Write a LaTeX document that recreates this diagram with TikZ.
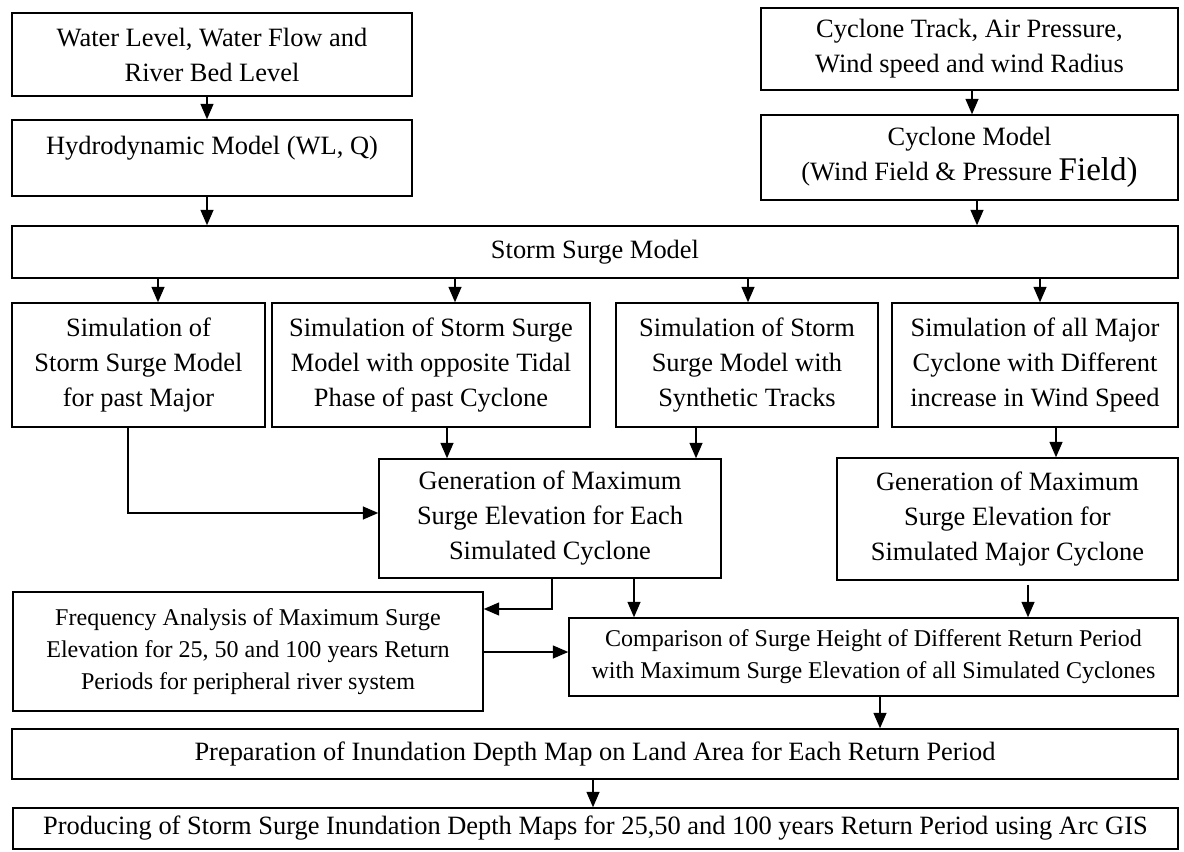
\documentclass[tikz,border=0pt]{standalone}
\usepackage{fontspec}
\setmainfont{Liberation Serif}
\usetikzlibrary{arrows.meta}

\newdimen\pxu
\pxu=0.025cm
\newcommand{\boxfont}{\fontsize{18.8pt}{24.9pt}\selectfont}
\newcommand{\smallboxfont}{\fontsize{17.1pt}{22.8pt}\selectfont}

\tikzset{
	box/.style = {draw, line width=0.9pt, inner sep=0pt, align=center, font=\boxfont},
	smallbox/.style = {box, font=\smallboxfont},
	arr/.style = {line width=1.6pt, -{Triangle[length=11pt, width=9pt]}},
}

\begin{document}
\begin{tikzpicture}[x=0.025cm, y=-0.025cm]
	\useasboundingbox (0,0) rectangle (1184,852);
	
	\node[box, minimum width=400\pxu, minimum height=83\pxu] (water) at (212,54.5) {Water Level, Water Flow and\\River Bed Level};
	\node[box, minimum width=400\pxu, minimum height=76\pxu, text depth=26\pxu] (hydro) at (212,158) {Hydrodynamic Model (WL, Q)};
	\node[box, minimum width=417\pxu, minimum height=82\pxu] (track) at (969.5,49) {Cyclone Track, Air Pressure,\\Wind speed and wind Radius};
	\node[box, minimum width=417\pxu, minimum height=85\pxu] (cyclone) at (969.5,157.5) {Cyclone Model\\(Wind Field \& Pressure {\fontsize{23.5pt}{24.9pt}\selectfont Field)}};
	\node[box, minimum width=1166\pxu, minimum height=52\pxu] (storm) at (595,252) {Storm Surge Model};
	
	\node[box, minimum width=253\pxu, minimum height=124\pxu] (simA) at (138.5,365) {Simulation of\\Storm Surge Model\\for past Major};
	\node[box, minimum width=318\pxu, minimum height=124\pxu] (simB) at (431,365) {Simulation of Storm Surge\\Model with opposite Tidal\\Phase of past Cyclone};
	\node[box, minimum width=262\pxu, minimum height=124\pxu] (simC) at (747,365) {Simulation of Storm\\Surge Model with\\Synthetic Tracks};
	\node[box, minimum width=286\pxu, minimum height=124\pxu] (simD) at (1035,365) {Simulation of all Major\\Cyclone with Different\\increase in Wind Speed};
	
	\node[box, minimum width=342\pxu, minimum height=119\pxu] (genA) at (550,518.5) {Generation of Maximum\\Surge Elevation for Each\\Simulated Cyclone};
	\node[box, minimum width=341\pxu, minimum height=122\pxu] (genB) at (1007.5,519) {Generation of Maximum\\Surge Elevation for\\Simulated Major Cyclone};
	
	\node[smallbox, minimum width=470\pxu, minimum height=119\pxu] (freq) at (248,651.5) {Frequency Analysis of Maximum Surge\\Elevation for 25, 50 and 100 years Return\\Periods for peripheral river system};
	\node[smallbox, minimum width=609\pxu, minimum height=78\pxu] (comp) at (873.5,657) {Comparison of Surge Height of Different Return Period\\with Maximum Surge Elevation of all Simulated Cyclones};
	
	\node[box, minimum width=1166\pxu, minimum height=50\pxu] (prep) at (595,754) {Preparation of Inundation Depth Map on Land Area for Each Return Period};
	\node[box, minimum width=1165\pxu, minimum height=41\pxu] (prod) at (595.5,828.5) {Producing of Storm Surge Inundation Depth Maps for 25,50 and 100 years Return Period using Arc GIS};
	
	\draw[arr] (water.south -| 207,0) -- (hydro.north -| 207,0);
	\draw[arr] (track.south -| 972,0) -- (cyclone.north -| 972,0);
	\draw[arr] (hydro.south -| 207,0) -- (storm.north -| 207,0);
	\draw[arr] (cyclone.south -| 977,0) -- (storm.north -| 977,0);
	
	\draw[arr] (storm.south -| 158,0) -- (simA.north -| 158,0);
	\draw[arr] (storm.south -| 455,0) -- (simB.north -| 455,0);
	\draw[arr] (storm.south -| 748,0) -- (simC.north -| 748,0);
	\draw[arr] (storm.south -| 1040,0) -- (simD.north -| 1040,0);
	
	\draw[arr] (simA.south -| 128,0) |- (genA.west |- 0,513);
	\draw[arr] (simB.south -| 447,0) -- (genA.north -| 447,0);
	\draw[arr] (simC.south -| 696,0) -- (genA.north -| 696,0);
	\draw[arr] (simD.south -| 1056,0) -- (genB.north -| 1056,0);
	
	\draw[arr] (genA.south -| 552,0) |- (freq.east |- 0,609);
	\draw[arr] (genA.south -| 634,0) -- (comp.north -| 634,0);
	\draw[arr] (genB.south -| 1028,0) ++(0,4) -- (comp.north -| 1028,0);
	\draw[arr] (freq.east |- 0,652) -- (comp.west |- 0,652);
	
	\draw[arr] (comp.south -| 880,0) -- (prep.north -| 880,0);
	\draw[arr] (prep.south -| 593,0) -- (prod.north -| 593,0);
\end{tikzpicture}
\end{document}
